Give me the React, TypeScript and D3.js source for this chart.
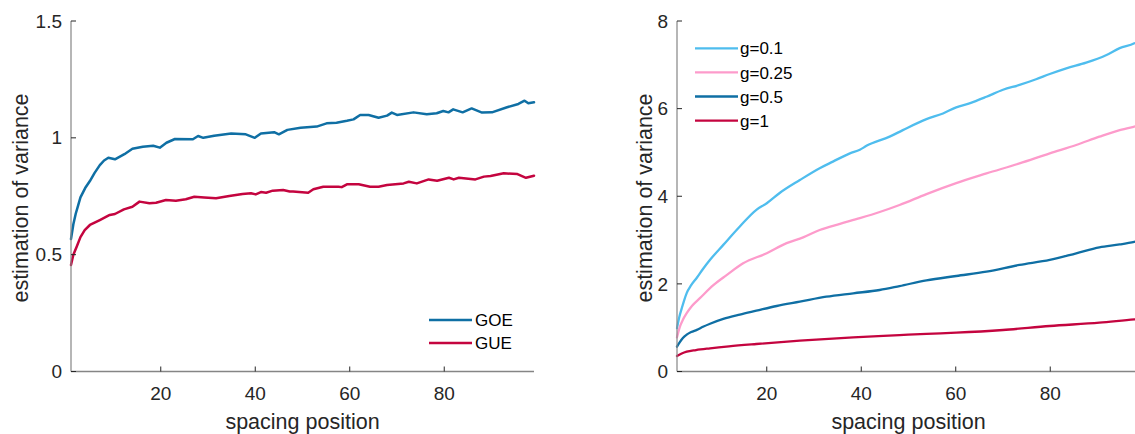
import React from "react";
import * as d3 from "d3";

// Left panel: variance estimate per spacing position, GOE vs GUE
const goeX = [1, 1.5, 2, 2.5, 3, 4, 5, 6, 7.1, 8, 8.9, 10.3, 12.3, 14, 16.2, 18.4, 19.8, 21.2, 23, 26.8, 27.9, 29, 31.3, 34.9, 38, 39.9, 41.2, 44, 45, 46.8, 49.6, 53, 55.1, 57.2, 59.4, 60.8, 62.2, 64, 66.1, 67.9, 68.9, 70, 73.5, 76.3, 78.4, 79.8, 80.9, 81.9, 83.9, 85.8, 88, 90.1, 93.3, 95.7, 97, 97.8, 99];
const goeY = [0.567, 0.63, 0.675, 0.71, 0.745, 0.785, 0.815, 0.85, 0.883, 0.903, 0.915, 0.908, 0.93, 0.953, 0.962, 0.966, 0.958, 0.979, 0.995, 0.994, 1.008, 1.0, 1.009, 1.019, 1.015, 1.0, 1.019, 1.024, 1.015, 1.034, 1.043, 1.048, 1.062, 1.065, 1.073, 1.079, 1.098, 1.098, 1.086, 1.095, 1.108, 1.098, 1.109, 1.101, 1.105, 1.115, 1.109, 1.122, 1.109, 1.126, 1.108, 1.109, 1.131, 1.145, 1.159, 1.148, 1.152];

const gueX = [1, 1.5, 2.2, 3, 3.9, 5, 7.1, 9.2, 10.3, 12.2, 14, 15.5, 17.6, 19, 21.1, 23.2, 25.3, 27.1, 29.2, 31.7, 34.5, 37.3, 39.1, 40.1, 41.2, 42.3, 43.7, 45.9, 47.3, 48, 51.2, 52.3, 54.4, 57.6, 58.3, 59.4, 61.9, 64.3, 66.1, 67.9, 71.4, 72.5, 74.2, 76.7, 78.5, 81, 82, 83.1, 86.6, 88.4, 89.8, 92.6, 95.5, 97.3, 99];
const gueY = [0.456, 0.5, 0.534, 0.575, 0.605, 0.627, 0.648, 0.67, 0.674, 0.694, 0.705, 0.727, 0.72, 0.722, 0.734, 0.731, 0.737, 0.748, 0.745, 0.741, 0.751, 0.76, 0.763, 0.758, 0.768, 0.765, 0.774, 0.777, 0.77, 0.77, 0.765, 0.78, 0.791, 0.791, 0.789, 0.801, 0.801, 0.791, 0.791, 0.798, 0.805, 0.812, 0.805, 0.822, 0.816, 0.829, 0.822, 0.829, 0.822, 0.834, 0.837, 0.848, 0.845, 0.829, 0.838];

// Right panel: variance estimate for several coupling values g
const g01X = [1, 1.5, 2, 2.5, 3.05, 4, 5.2, 6.5, 8, 10.8, 14.3, 17.8, 20, 22.8, 27, 31.2, 34, 37.6, 39.7, 41.1, 46, 48.8, 53.8, 57.3, 60.1, 62.9, 66.5, 70, 73.5, 77, 79.9, 83.4, 87.6, 91.8, 94.7, 97.8, 99];
const g01Y = [0.99, 1.25, 1.44, 1.62, 1.79, 1.97, 2.14, 2.34, 2.55, 2.89, 3.31, 3.69, 3.84, 4.08, 4.37, 4.64, 4.79, 4.98, 5.06, 5.15, 5.36, 5.51, 5.76, 5.89, 6.03, 6.12, 6.27, 6.43, 6.54, 6.67, 6.79, 6.92, 7.05, 7.22, 7.38, 7.49, 7.57];

const g025X = [1, 1.6, 2.2, 3.05, 4.2, 5.9, 8.7, 11.5, 15, 20, 24.2, 27.7, 31.2, 35.5, 39.7, 43.9, 48.1, 53.8, 60.1, 66.5, 73.5, 79.9, 85.5, 90.4, 94.7, 97.8, 99];
const g025Y = [0.78, 1.02, 1.17, 1.33, 1.5, 1.68, 1.97, 2.2, 2.47, 2.7, 2.93, 3.06, 3.23, 3.37, 3.5, 3.64, 3.8, 4.05, 4.3, 4.52, 4.75, 4.98, 5.17, 5.36, 5.51, 5.59, 5.62];

const g05X = [1, 1.6, 2.2, 3.05, 4, 5.2, 6.5, 8, 10.8, 14.3, 17.8, 22.1, 27, 32.6, 38.3, 43.9, 48.1, 53.8, 60.1, 66.5, 73.5, 79.9, 85.5, 90.4, 94.7, 97.8, 99];
const g05Y = [0.566, 0.67, 0.76, 0.84, 0.9, 0.95, 1.02, 1.09, 1.2, 1.3, 1.388, 1.495, 1.593, 1.707, 1.785, 1.86, 1.95, 2.08, 2.18, 2.278, 2.431, 2.545, 2.698, 2.835, 2.9, 2.96, 2.99];

const g1X = [1, 2, 3.05, 5, 8, 12, 17.8, 27, 38.3, 48.1, 53.8, 60.1, 70, 79.9, 90.4, 97.8, 99];
const g1Y = [0.354, 0.41, 0.452, 0.49, 0.53, 0.575, 0.628, 0.703, 0.78, 0.83, 0.86, 0.886, 0.947, 1.039, 1.114, 1.19, 1.2];

const xTicks = [20, 40, 60, 80];
const leftYTicks = [0, 0.5, 1, 1.5];
const leftYTickLabels = ["0", "0.5", "1", "1.5"];
const rightYTicks = [0, 2, 4, 6, 8];

const leftNames = ["GOE", "GUE"];
const rightNames = ["g=0.1", "g=0.25", "g=0.5", "g=1"];

const C_DARK = "#0f6fa4";
const C_RED = "#c4043f";
const C_LIGHT = "#4fbdee";
const C_PINK = "#fd9bcb";

const FONT = "'Liberation Sans', Arial, Helvetica, sans-serif";
const AXIS = "#858585";
const TEXT = "#262626";

type Series = { name: string; xs: number[]; ys: number[]; color: string };

function Panel(props: {
  x0: number;
  x1: number;
  yDomain: [number, number];
  yTicks: number[];
  yTickLabels: string[];
  series: Series[];
  strokeW: number;
  yLabelX: number;
  smooth: boolean;
  legend: { x0: number; x1: number; y0: number; dy: number; tx: number };
}) {
  const { x0, x1, yDomain, yTicks, yTickLabels, series, strokeW, yLabelX, smooth, legend } = props;
  const top = 21;
  const bottom = 371.5;
  const x = d3.scaleLinear().domain([1, 99]).range([x0, x1]);
  const y = d3.scaleLinear().domain(yDomain).range([bottom, top]);
  const line = d3
    .line<[number, number]>()
    .x((d) => x(d[0]))
    .y((d) => y(d[1]))
    .curve(smooth ? d3.curveMonotoneX : d3.curveLinear);
  const labelCx = (x0 + x1) / 2;
  return (
    <g fontFamily={FONT}>
      {series.map((s) => (
        <path
          key={s.name}
          d={line(s.xs.map((v, i) => [v, s.ys[i]] as [number, number])) || ""}
          fill="none"
          stroke={s.color}
          strokeWidth={strokeW}
          strokeLinejoin="round"
          strokeLinecap="round"
        />
      ))}
      {/* axes */}
      <line x1={x0} x2={x1} y1={bottom} y2={bottom} stroke={AXIS} strokeWidth={1.4} />
      <line x1={x0} x2={x0} y1={top} y2={bottom} stroke={AXIS} strokeWidth={1.2} />
      {xTicks.map((t) => (
        <g key={"x" + t}>
          <line x1={x(t)} x2={x(t)} y1={bottom} y2={bottom - 5} stroke={TEXT} strokeWidth={1} />
          <text x={x(t)} y={400} textAnchor="middle" fontSize={19} fill={TEXT}>
            {t}
          </text>
        </g>
      ))}
      {yTicks.map((t, i) => (
        <g key={"y" + t}>
          <line x1={x0} x2={x0 + 5} y1={y(t)} y2={y(t)} stroke={TEXT} strokeWidth={1} />
          <text x={x0 - 9} y={y(t)} dy="0.35em" textAnchor="end" fontSize={19} fill={TEXT}>
            {yTickLabels[i]}
          </text>
        </g>
      ))}
      <text x={labelCx} y={429} textAnchor="middle" fontSize={21.5} fill={TEXT}>
        spacing position
      </text>
      <text
        transform={`translate(${yLabelX},${198}) rotate(-90)`}
        textAnchor="middle"
        fontSize={21.5}
        fill={TEXT}
      >
        estimation of variance
      </text>
      {series.map((s, i) => (
        <g key={"leg" + s.name}>
          <line
            x1={legend.x0}
            x2={legend.x1}
            y1={legend.y0 + i * legend.dy}
            y2={legend.y0 + i * legend.dy}
            stroke={s.color}
            strokeWidth={strokeW}
          />
          <text x={legend.tx} y={legend.y0 + i * legend.dy} dy="0.36em" fontSize={17} fill="#000">
            {s.name}
          </text>
        </g>
      ))}
    </g>
  );
}

export default function App() {
  const left: Series[] = [
    { name: leftNames[0], xs: goeX, ys: goeY, color: C_DARK },
    { name: leftNames[1], xs: gueX, ys: gueY, color: C_RED },
  ];
  const right: Series[] = [
    { name: rightNames[0], xs: g01X, ys: g01Y, color: C_LIGHT },
    { name: rightNames[1], xs: g025X, ys: g025Y, color: C_PINK },
    { name: rightNames[2], xs: g05X, ys: g05Y, color: C_DARK },
    { name: rightNames[3], xs: g1X, ys: g1Y, color: C_RED },
  ];
  return (
    <svg
      width={1135}
      height={434}
      style={{ position: "absolute", left: 0, top: 0, background: "#fff" }}
    >
      <rect width={1135} height={434} fill="#fff" />
      <Panel
        x0={71}
        x1={534}
        yDomain={[0, 1.5]}
        yTicks={leftYTicks}
        yTickLabels={leftYTickLabels}
        series={left}
        strokeW={2.5}
        yLabelX={27.5}
        smooth={false}
        legend={{ x0: 429, x1: 472, y0: 320, dy: 23, tx: 475 }}
      />
      <Panel
        x0={677}
        x1={1140}
        yDomain={[0, 8]}
        yTicks={rightYTicks}
        yTickLabels={rightYTicks.map(String)}
        series={right}
        strokeW={2.3}
        yLabelX={651.5}
        smooth={true}
        legend={{ x0: 695, x1: 738, y0: 48.3, dy: 24.1, tx: 740 }}
      />
    </svg>
  );
}
